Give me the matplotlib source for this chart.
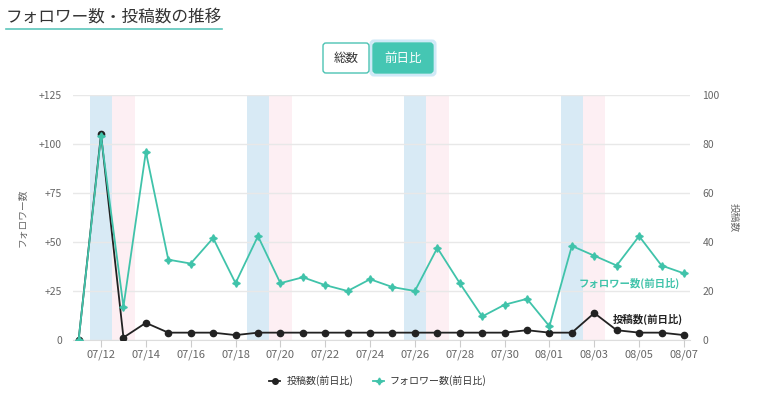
import numpy as np
import matplotlib
matplotlib.use("Agg")
import matplotlib.pyplot as plt
from matplotlib.patches import FancyBboxPatch
from matplotlib.lines import Line2D

plt.rcParams['font.family'] = ['Noto Sans CJK JP', 'DejaVu Sans']

# data (2025-07-11 .. 2025-08-07)
dates = ['07/11', '07/12', '07/13', '07/14', '07/15', '07/16', '07/17', '07/18',
         '07/19', '07/20', '07/21', '07/22', '07/23', '07/24', '07/25', '07/26',
         '07/27', '07/28', '07/29', '07/30', '07/31', '08/01', '08/02', '08/03',
         '08/04', '08/05', '08/06', '08/07']
followers_diff = [0, 104, 17, 96, 41, 39, 52, 29, 53, 29, 32, 28, 25, 31, 27, 25,
                  47, 29, 12, 18, 21, 7, 48, 43, 38, 53, 38, 34]
posts_diff = [0, 84, 1, 7, 3, 3, 3, 2, 3, 3, 3, 3, 3, 3, 3, 3,
              3, 3, 3, 3, 4, 3, 3, 11, 4, 3, 3, 2]
saturdays = ['07/12', '07/19', '07/26', '08/02']
sundays = ['07/13', '07/20', '07/27', '08/03']
left_ticks = [0, 25, 50, 75, 100, 125]
right_ticks = [0, 20, 40, 60, 80, 100]

TEAL = '#40c3aa'
BLACK = '#222222'
GRAY = '#666666'

W, H = 772, 409
fig = plt.figure(figsize=(W / 100, H / 100), dpi=100)
fig.patch.set_facecolor('white')

x = np.arange(len(dates))
L, R, T, B = 73, 690, 95, 340
ax = fig.add_axes([L / W, 1 - B / H, (R - L) / W, (B - T) / H])
ax2 = ax.twinx()
ax.set_zorder(ax2.get_zorder() + 1)
ax.patch.set_visible(False)

# weekend bands
for d in saturdays:
    i = dates.index(d)
    ax2.axvspan(i - 0.5, i + 0.5, color='#d8eaf5', lw=0, zorder=0)
for d in sundays:
    i = dates.index(d)
    ax2.axvspan(i - 0.5, i + 0.5, color='#fdeff3', lw=0, zorder=0)

ax2.plot(x, posts_diff, color=BLACK, lw=1.3, marker='o', ms=4.5, zorder=3)
ax.plot(x, followers_diff, color=TEAL, lw=1.3, marker=(4, 1, 0), ms=5.5, zorder=3)

ax.set_xlim(-0.25, len(dates) - 1 + 0.27)
ax.set_ylim(0, 125)
ax2.set_ylim(0, 100)
ax.set_yticks(left_ticks)
ax.set_yticklabels(['0'] + ['+%d' % v for v in left_ticks[1:]])
ax2.set_yticks(right_ticks)
ax2.grid(axis='y', color='#e8e8e8', lw=1)
ax2.set_axisbelow(True)

ax.set_xticks(x[1::2])
ax.set_xticklabels(dates[1::2])

for a in (ax, ax2):
    for s in a.spines.values():
        s.set_visible(False)
ax2.spines['bottom'].set_visible(True)
ax2.spines['bottom'].set_color('#dddddd')

ax.tick_params(axis='x', length=5, width=0.8, color='#cccccc', pad=2,
               labelsize=8, labelcolor=GRAY)
ax.tick_params(axis='y', length=0, pad=8, labelsize=7.5, labelcolor=GRAY)
ax2.tick_params(axis='y', length=0, pad=9, labelsize=7.5, labelcolor=GRAY)
ax2.tick_params(axis='x', length=0)

ax.set_ylabel('フォロワー数', color=GRAY, fontsize=7, labelpad=8)
ax2.set_ylabel('投稿数', color=GRAY, fontsize=7, rotation=-90, labelpad=14)

# end labels
ax.annotate('フォロワー数(前日比)', (x[-1], followers_diff[-1]), xytext=(-3, -7),
            textcoords='offset points', ha='right', va='center',
            color=TEAL, fontsize=7.5, fontweight='bold')
ax2.annotate('投稿数(前日比)', (x[-1], posts_diff[-1]), xytext=(-1, 11),
             textcoords='offset points', ha='right', va='center',
             color=BLACK, fontsize=7.5, fontweight='bold')

# legend
handles = [Line2D([], [], color=BLACK, lw=1.3, marker='o', ms=4),
           Line2D([], [], color=TEAL, lw=1.3, marker=(4, 1, 0), ms=5)]
fig.legend(handles, ['投稿数(前日比)', 'フォロワー数(前日比)'], loc='center',
           bbox_to_anchor=(378 / W, 1 - 381 / H), ncol=2, frameon=False,
           fontsize=7.2, handlelength=1.1, columnspacing=2.0, handletextpad=0.6,
           labelcolor='#333333')

# title with underline
fig.text(6 / W, 1 - 17 / H, 'フォロワー数・投稿数の推移', fontsize=12,
         color='#333333', va='center', ha='left')
fig.add_artist(Line2D([6 / W, 222 / W], [1 - 29 / H, 1 - 29 / H],
                      color='#5cc6bb', lw=1.2, transform=fig.transFigure))

# toggle buttons
def button(x0, y0, x1, y1, fc, ec, lw):
    p = FancyBboxPatch((x0 / 100, (H - y1) / 100), (x1 - x0) / 100, (y1 - y0) / 100,
                       boxstyle='round,pad=0,rounding_size=0.03',
                       transform=fig.dpi_scale_trans, fc=fc, ec=ec, lw=lw)
    fig.add_artist(p)

button(371, 41, 435, 75, 'none', '#cfe9f7', 2.2)
button(323, 43, 369, 73, 'white', '#4cc3b3', 1.0)
button(373, 43, 433, 73, '#45c6b3', '#45c6b3', 1.0)
fig.text(346 / W, 1 - 58 / H, '総数', fontsize=9, color='#333333', ha='center', va='center')
fig.text(403 / W, 1 - 58 / H, '前日比', fontsize=9, color='white', ha='center', va='center')

fig.savefig('out.png', dpi=100)
